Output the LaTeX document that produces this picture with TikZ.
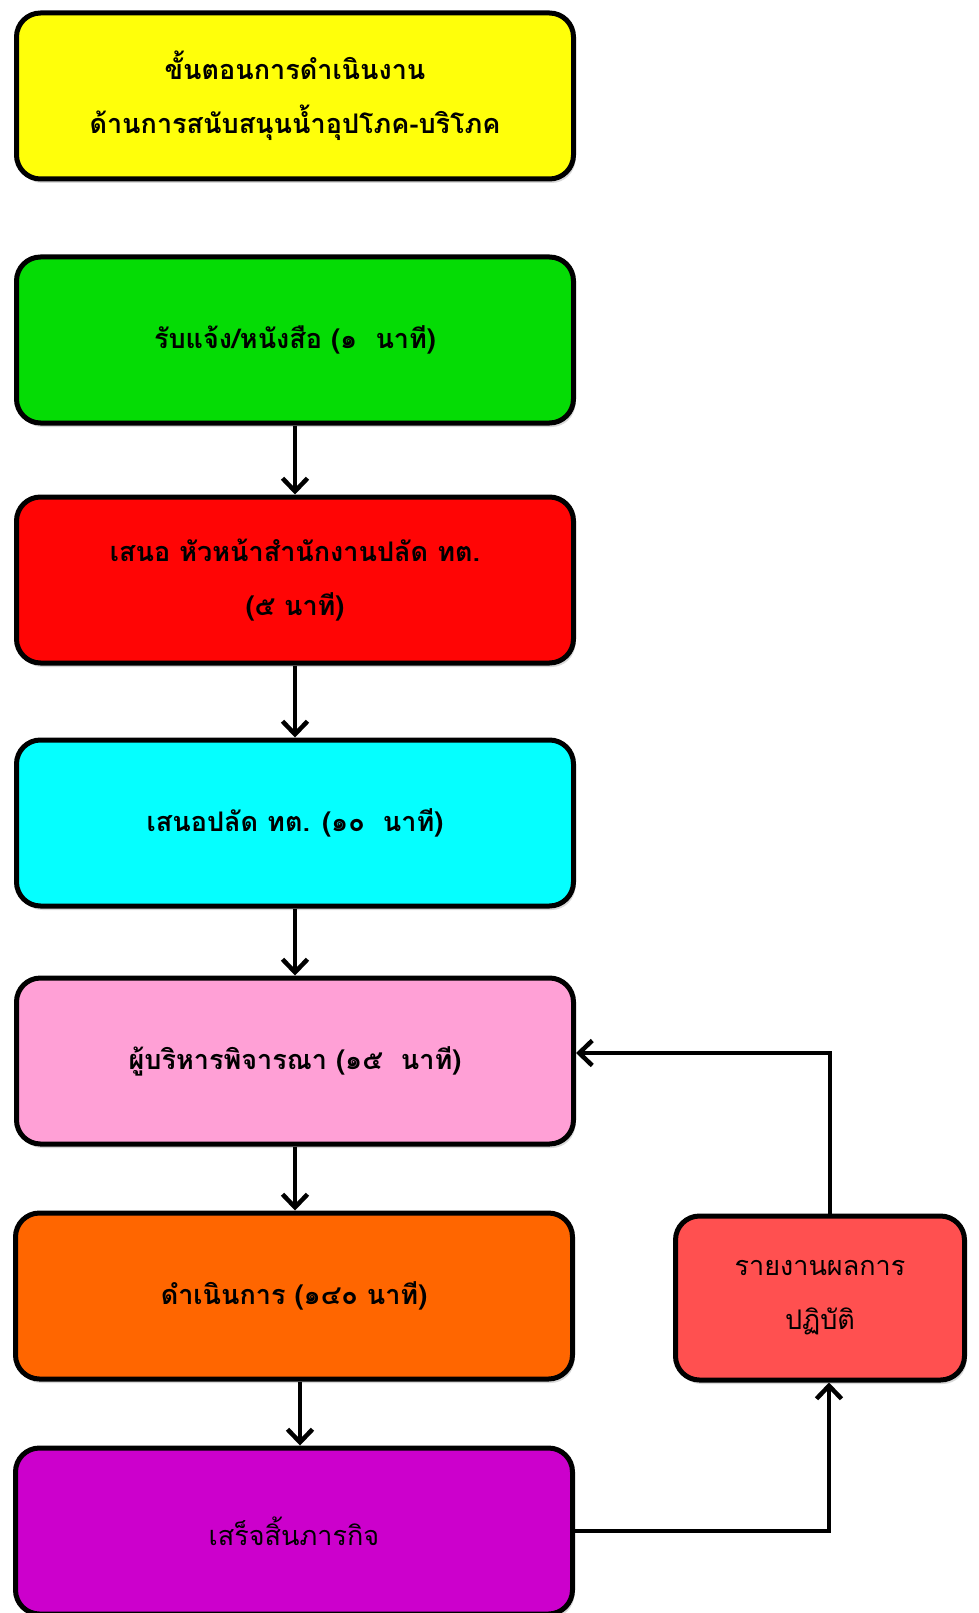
\documentclass[tikz,border=0pt]{standalone}
\usepackage{fontspec}
\newfontfamily\thaifont[Script=Thai]{Loma}
\usetikzlibrary{arrows.meta,shadows}

\tikzset{
  stepbox/.style={draw=black,line width=5pt,rounded corners=24pt,
    minimum width=557pt,minimum height=166pt,align=center,
    font=\thaifont\bfseries\fontsize{27}{54}\selectfont,
    drop shadow={opacity=0.3,shadow xshift=2pt,shadow yshift=-4pt}},
  plaintext/.style={font=\thaifont\fontsize{27}{54}\selectfont},
  flow/.style={line width=4.5pt,-{Straight Barb[length=13pt,width=25pt,line width=4.5pt]}}
}

\begin{document}
\begin{tikzpicture}[x=1pt,y=1pt]
\useasboundingbox (0,0) rectangle (978,-1613);
% steps of the job
\node[stepbox,fill={rgb,255:red,255;green,255;blue,10}] (head) at (295,-96) {ขั้นตอนการดำเนินงาน\\ด้านการสนับสนุนน้ำอุปโภค-บริโภค};
\node[stepbox,fill={rgb,255:red,5;green,220;blue,5}] (recv) at (295,-340) {รับแจ้ง/หนังสือ (๑~~นาที)};
\node[stepbox,fill={rgb,255:red,255;green,5;blue,5}] (chief) at (295,-580) {เสนอ หัวหน้าสำนักงานปลัด ทต.\\(๕ นาที)};
\node[stepbox,fill={rgb,255:red,5;green,255;blue,255}] (clerk) at (295,-823) {เสนอปลัด ทต. (๑๐~~นาที)};
\node[stepbox,fill={rgb,255:red,255;green,160;blue,214}] (exec) at (295,-1061) {ผู้บริหารพิจารณา (๑๕~~นาที)};
\node[stepbox,fill={rgb,255:red,255;green,102;blue,0},drop shadow={opacity=0}] (work) at (294,-1296) {ดำเนินการ (๑๔๐ นาที)};
\node[stepbox,plaintext,fill={rgb,255:red,204;green,0;blue,204},drop shadow={opacity=0}] (done) at (294,-1531) {เสร็จสิ้นภารกิจ};
\node[stepbox,plaintext,fill={rgb,255:red,255;green,80;blue,80},drop shadow={opacity=0},minimum width=289pt,minimum height=164pt] (report) at (820,-1298) {รายงานผลการ\\ปฏิบัติ};

\draw[flow] (recv) -- (chief);
\draw[flow] (chief) -- (clerk);
\draw[flow] (clerk) -- (exec);
\draw[flow] (exec.south) -- (exec.south |- work.north);
\draw[flow] ([xshift=6pt]work.south) -- ([xshift=6pt]work.south |- done.north);
\draw[flow] (done.east) -| ([xshift=9pt]report.south);
\draw[flow] ([xshift=10pt]report.north) |- ([yshift=8pt]exec.east);
\end{tikzpicture}
\end{document}
